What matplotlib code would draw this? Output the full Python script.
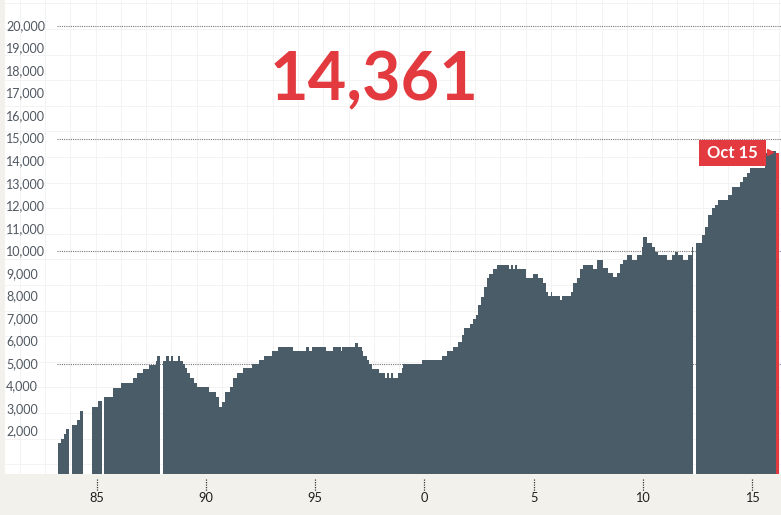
import matplotlib
matplotlib.use('Agg')
import matplotlib.pyplot as plt
import matplotlib.transforms as mtransforms
from matplotlib.patches import Rectangle
from matplotlib.lines import Line2D
import numpy as np

plt.rcParams['font.family'] = ['Lato', 'DejaVu Sans']

# step series: start of each level (decimal year) and the level; 0 = no data
step_start = [
    1983.23, 1983.35, 1983.47, 1983.59, 1983.73, 1983.85, 1984.07, 1984.22, 1984.37, 1984.78,
    1985.03, 1985.24, 1985.33, 1985.72, 1986.10, 1986.66, 1986.85, 1987.09, 1987.40, 1987.70,
    1987.76, 1987.87, 1988.04, 1988.16, 1988.28, 1988.38, 1988.47, 1988.70, 1988.80, 1988.93,
    1989.03, 1989.14, 1989.26, 1989.44, 1989.59, 1990.14, 1990.45, 1990.57, 1990.71, 1990.86,
    1991.09, 1991.24, 1991.40, 1991.70, 1992.09, 1992.43, 1992.65, 1993.00, 1993.31, 1993.96,
    1994.57, 1994.70, 1994.84, 1995.49, 1995.82, 1996.18, 1996.24, 1996.82, 1996.97, 1997.13,
    1997.20, 1997.35, 1997.47, 1997.58, 1997.93, 1998.19, 1998.27, 1998.39, 1998.45, 1998.57,
    1998.80, 1998.96, 1999.03, 1999.87, 2000.79, 2001.02, 2001.32, 2001.55, 2001.71, 2001.83,
    2002.09, 2002.21, 2002.36, 2002.47, 2002.59, 2002.73, 2002.85, 2002.96, 2003.13, 2003.31,
    2003.89, 2003.97, 2004.07, 2004.15, 2004.23, 2004.65, 2004.96, 2005.22, 2005.42, 2005.57,
    2005.67, 2005.78, 2005.83, 2006.21, 2006.29, 2006.71, 2006.82, 2006.97, 2007.13, 2007.28,
    2007.71, 2007.89, 2008.19, 2008.42, 2008.65, 2008.81, 2008.96, 2009.11, 2009.27, 2009.49,
    2009.72, 2009.95, 2010.03, 2010.18, 2010.41, 2010.56, 2010.71, 2011.10, 2011.33, 2011.48,
    2011.63, 2011.86, 2012.09, 2012.24, 2012.32, 2012.43, 2012.70, 2012.85, 2013.00, 2013.16,
    2013.31, 2013.46, 2013.92, 2014.08, 2014.46, 2014.61, 2014.76, 2014.91, 2015.60, 2015.83,
]
step_value = [
    1500, 1690, 1880, 2100, 0, 2290, 2520, 2920, 0, 3110,
    3360, 0, 3550, 3950, 4140, 4370, 4590, 4770, 4960, 5150,
    5360, 0, 5150, 5360, 5150, 5360, 5150, 5360, 5150, 5000,
    4810, 4590, 4370, 4170, 3970, 3740, 3550, 3110, 3330, 3740,
    3970, 4370, 4590, 4810, 5000, 5180, 5360, 5560, 5770, 5560,
    5770, 5560, 5770, 5560, 5770, 5560, 5770, 5950, 5770, 5560,
    5360, 5180, 5000, 4770, 4590, 4370, 4590, 4370, 4590, 4370,
    4590, 4810, 5000, 5180, 5360, 5570, 5770, 5990, 6290, 6580,
    6780, 6980, 7170, 7620, 7990, 8430, 8800, 8990, 9220, 9390,
    9220, 9390, 9220, 9390, 9220, 8800, 8990, 8800, 8580, 8210,
    8030, 8210, 8030, 7840, 8030, 8210, 8580, 8800, 9220, 9390,
    9220, 9610, 9250, 9020, 8850, 9020, 9440, 9610, 9840, 9610,
    9840, 10200, 10620, 10380, 10200, 9980, 9840, 9610, 9840, 9980,
    9840, 9610, 9840, 10200, 0, 10380, 10720, 11090, 11610, 11910,
    12050, 12280, 12500, 12870, 13090, 13280, 13490, 13680, 14350, 14460,
]
latest_start = 2016.09
latest_end = 2016.24
latest_value = 14361
latest_label = 'Oct 15'

year_ticks = [1985, 1990, 1995, 2000, 2005, 2010, 2015]
year_labels = ['85', '90', '95', '0', '5', '10', '15']
y_label_values = list(range(2000, 20001, 1000))
ref_lines = [5000, 10000, 15000, 20000]

SLATE = '#4a5c68'
RED = '#e23a3f'
BEIGE = '#f3f1eb'
W, H = 781, 515

fig = plt.figure(figsize=(W / 100, H / 100), dpi=100, facecolor=BEIGE)
ax = fig.add_axes([5 / W, 41 / H, 776 / W, 474 / H])
ax.set_facecolor('white')
for s in ax.spines.values():
    s.set_visible(False)

ax.set_xlim(1980.79, 2016.33)
ax.set_ylim(120, 21149)

# faint background square grid (decoration)
for fx in np.arange(14.7 / 776, 1, 25.3 / 776):
    ax.plot([fx, fx], [0, 1], transform=ax.transAxes, color='#f3f3f3', lw=0.7, zorder=0)
for fy in np.arange(1 - 3.4 / 474, 0, -25.6 / 474):
    ax.plot([0, 1], [fy, fy], transform=ax.transAxes, color='#f3f3f3', lw=0.7, zorder=0)

# dotted reference lines
ax.hlines(ref_lines, 1983.17, 2016.33, colors='#777777', linestyles=(0, (1, 1)), lw=0.8, zorder=1)

# bars
edges = step_start + [latest_start]
ax.stairs(step_value, edges, fill=True, baseline=0, color=SLATE, lw=0, zorder=2)
ax.stairs([latest_value], [latest_start, latest_end], fill=True, baseline=0, color=RED, lw=0, zorder=2)

# y labels inside the plot
ytrans = mtransforms.blended_transform_factory(ax.transAxes, ax.transData)
for v in y_label_values:
    ax.text(0.0015, v, f'{v:,}', transform=ytrans, ha='left', va='center',
            fontsize=9, color='#4f5760')
ax.set_yticks([])

# x axis
ax.set_xticks(year_ticks, year_labels)
ax.tick_params(axis='x', length=0, pad=13, labelsize=9.2, labelcolor='#1e1e1e')
xtrans = mtransforms.blended_transform_factory(ax.transData, ax.transAxes)
for t in year_ticks:
    ax.plot([t, t], [-0.01, -0.035], transform=xtrans, clip_on=False,
            color='#333333', lw=0.9, ls=(0, (1, 1)))

# headline number
ax.text((374 - 5) / 776, 1 - 100 / 474, f'{latest_value:,}', transform=ax.transAxes,
        ha='center', va='baseline', fontsize=48, fontweight='bold', color=RED)

# latest date tag
fig.add_artist(Rectangle((699 / W, 1 - 166 / H), 67 / W, 26 / H, transform=fig.transFigure,
                         facecolor=RED, edgecolor='none', zorder=5))
fig.text(732.5 / W, 1 - 153.5 / H, latest_label, ha='center', va='center',
         fontsize=12, fontweight='bold', color='white', zorder=6)
fig.add_artist(Line2D([770 / W], [1 - 151.5 / H], transform=fig.transFigure, marker='>',
                      markersize=5, color=RED, lw=0, zorder=6))

fig.savefig('out.png', dpi=100, facecolor=fig.get_facecolor())
